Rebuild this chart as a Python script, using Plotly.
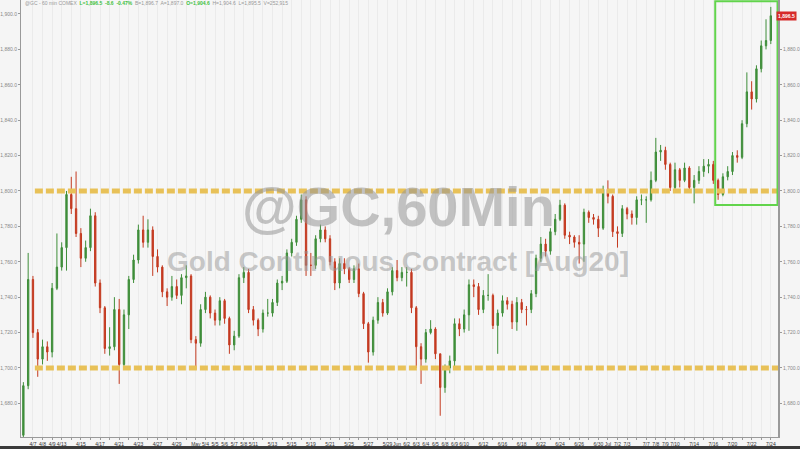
import plotly.graph_objects as go

# Trading days on the time axis (index 0 = 4/7)
trading_days = [
    "4/7", "4/8", "4/9", "4/13", "4/14", "4/15", "4/16", "4/17", "4/20", "4/21", "4/22", "4/23", "4/24",
    "4/27", "4/28", "4/29", "4/30",
    "5/1", "5/4", "5/5", "5/6", "5/7", "5/8", "5/11", "5/12", "5/13", "5/14", "5/15", "5/18", "5/19",
    "5/20", "5/21", "5/22", "5/25", "5/26", "5/27", "5/28", "5/29",
    "6/1", "6/2", "6/3", "6/4", "6/5", "6/8", "6/9", "6/10", "6/11", "6/12", "6/15", "6/16", "6/17",
    "6/18", "6/19", "6/22", "6/23", "6/24", "6/25", "6/26", "6/29", "6/30",
    "7/1", "7/2", "7/3", "7/6", "7/7", "7/8", "7/9", "7/10", "7/13", "7/14", "7/15", "7/16", "7/17",
    "7/20", "7/21", "7/22", "7/23", "7/24",
]
labelled_days = [
    "4/7", "4/8", "4/9", "4/13", "4/15", "4/17", "4/21", "4/23", "4/27", "4/29", "5/1", "5/4", "5/5",
    "5/6", "5/7", "5/8", "5/11", "5/13", "5/15", "5/19", "5/21", "5/25", "5/27", "5/29", "6/1", "6/2",
    "6/3", "6/4", "6/5", "6/8", "6/9", "6/10", "6/12", "6/16", "6/18", "6/22", "6/24", "6/26", "6/30",
    "7/1", "7/2", "7/3", "7/7", "7/8", "7/9", "7/10", "7/14", "7/16", "7/20", "7/22", "7/24",
]
month_names = {"5/1": "May", "6/1": "Jun", "7/1": "Jul"}

# Price bars (two per trading day, starting the session before 4/7)
first_open = 1662
closes = [
    1690, 1750, 1720, 1705, 1712, 1709, 1745, 1757, 1768, 1798,
    1790, 1776, 1762, 1768, 1786, 1748, 1734, 1711, 1712, 1733,
    1702, 1730, 1750, 1761, 1778, 1771, 1778, 1763, 1757, 1743,
    1740, 1746, 1741, 1751, 1752, 1716, 1714, 1733, 1740, 1731,
    1727, 1738, 1728, 1713, 1718, 1751, 1754, 1733, 1727, 1722,
    1731, 1731, 1737, 1748, 1749, 1765, 1771, 1784, 1795, 1758,
    1758, 1773, 1778, 1773, 1760, 1748, 1759, 1756, 1750, 1756,
    1742, 1725, 1709, 1727, 1737, 1731, 1743, 1755, 1751, 1754,
    1754, 1734, 1712, 1705, 1720, 1722, 1708, 1689, 1700, 1704,
    1725, 1722, 1730, 1747, 1746, 1733, 1741, 1741, 1724, 1731,
    1738, 1736, 1726, 1737, 1733, 1733, 1742, 1762, 1770, 1766,
    1777, 1784, 1792, 1775, 1774, 1771, 1770, 1788, 1785, 1784,
    1779, 1801, 1797, 1777, 1776, 1790, 1787, 1785, 1795, 1795,
    1795, 1806, 1822, 1823, 1815, 1802, 1812, 1806, 1813, 1802,
    1806, 1811, 1814, 1815, 1806, 1798, 1808, 1811, 1820, 1819,
    1838, 1856, 1852, 1869, 1882, 1885, 1899,
]
highs = [
    1692, 1765, 1752, 1722, 1716, 1715, 1748, 1776, 1771, 1800,
    1808, 1811, 1779, 1772, 1790, 1788, 1750, 1735, 1723, 1740,
    1739, 1733, 1752, 1764, 1781, 1786, 1784, 1780, 1767, 1758,
    1745, 1752, 1750, 1753, 1758, 1753, 1718, 1736, 1743, 1741,
    1733, 1740, 1739, 1729, 1721, 1753, 1757, 1756, 1735, 1728,
    1733, 1739, 1739, 1750, 1752, 1767, 1773, 1786, 1798, 1797,
    1765, 1775, 1781, 1780, 1775, 1762, 1762, 1762, 1757, 1758,
    1759, 1743, 1726, 1729, 1740, 1739, 1745, 1757, 1761, 1757,
    1757, 1756, 1735, 1714, 1722, 1727, 1723, 1708, 1702, 1707,
    1728, 1728, 1733, 1750, 1750, 1748, 1744, 1753, 1742, 1733,
    1741, 1740, 1738, 1740, 1739, 1735, 1744, 1764, 1774, 1773,
    1779, 1787, 1795, 1793, 1777, 1775, 1775, 1790, 1789, 1787,
    1786, 1803, 1806, 1798, 1780, 1792, 1791, 1789, 1797, 1798,
    1797, 1811, 1830, 1826, 1825, 1816, 1816, 1813, 1816, 1814,
    1809, 1814, 1818, 1818, 1817, 1807, 1810, 1814, 1822, 1823,
    1840, 1867, 1862, 1871, 1885, 1897, 1904,
]
lows = [
    1659, 1688, 1717, 1695, 1702, 1704, 1706, 1744, 1755, 1755,
    1787, 1774, 1757, 1760, 1766, 1746, 1731, 1708, 1707, 1710,
    1691, 1700, 1722, 1748, 1759, 1768, 1768, 1752, 1754, 1740,
    1735, 1738, 1739, 1736, 1745, 1714, 1699, 1712, 1731, 1728,
    1724, 1724, 1725, 1708, 1710, 1717, 1748, 1731, 1724, 1718,
    1720, 1729, 1729, 1735, 1744, 1748, 1763, 1769, 1782, 1752,
    1752, 1756, 1771, 1771, 1758, 1744, 1745, 1753, 1748, 1748,
    1740, 1722, 1703, 1707, 1725, 1729, 1730, 1741, 1749, 1749,
    1746, 1731, 1700, 1691, 1703, 1719, 1705, 1673, 1686, 1697,
    1700, 1718, 1720, 1721, 1740, 1730, 1731, 1738, 1722, 1708,
    1729, 1733, 1722, 1721, 1731, 1724, 1731, 1740, 1760, 1763,
    1764, 1775, 1783, 1773, 1770, 1768, 1759, 1760, 1782, 1781,
    1774, 1778, 1793, 1774, 1768, 1774, 1784, 1781, 1781, 1792,
    1782, 1794, 1805, 1817, 1812, 1800, 1801, 1802, 1805, 1800,
    1793, 1804, 1808, 1810, 1804, 1795, 1797, 1806, 1809, 1816,
    1818, 1836, 1846, 1850, 1867, 1880, 1883,
]
support_level = 1700
resistance_level = 1800
last_price_text = "1,896.5"
y_ticks_left = [1680, 1700, 1720, 1740, 1760, 1780, 1800, 1820, 1840, 1860, 1880, 1900]
y_ticks_right = [1680, 1700, 1720, 1740, 1760, 1780, 1800, 1820, 1840, 1860, 1880]

opens = [first_open] + closes[:-1]
bars_per_day = 2
x_bars = [-1 + i / bars_per_day for i in range(len(closes))]

tickvals = list(range(len(trading_days)))
ticktext = [month_names.get(d, d) if d in labelled_days else "" for d in trading_days]

X_RANGE = [-1.247, 77.75]
Y_RANGE = [1661.0, 1907.9]
FONT = "Liberation Sans, Arial, sans-serif"

fig = go.Figure()
fig.add_trace(go.Candlestick(
    x=x_bars, open=opens, high=highs, low=lows, close=closes,
    increasing=dict(line=dict(color="#3f8e3a", width=1), fillcolor="#3f8e3a"),
    decreasing=dict(line=dict(color="#c43a20", width=1), fillcolor="#c43a20"),
    whiskerwidth=0, showlegend=False, hoverinfo="skip",
))
# invisible trace on the right-hand price axis
fig.add_trace(go.Scatter(x=[X_RANGE[0]], y=[Y_RANGE[0]], yaxis="y2", mode="markers",
                         marker=dict(opacity=0), showlegend=False, hoverinfo="skip"))

# dashed support / resistance lines
for lvl in (resistance_level, support_level):
    fig.add_shape(type="line", xref="x", yref="y", x0=0.2, x1=X_RANGE[1], y0=lvl, y1=lvl,
                  line=dict(color="#e8c158", width=5, dash="8px,3px"), layer="above")

# green highlight box
fig.add_shape(type="rect", xref="x", yref="y", x0=71.2, x1=77.7, y0=1792.1, y1=1907.2,
              line=dict(color="#62d44c", width=2), fillcolor="rgba(0,0,0,0)", layer="above")

# dark bar along the bottom edge
fig.add_shape(type="rect", xref="paper", yref="paper", x0=-0.03, x1=1.03, y0=-0.0205, y1=-0.05,
              line=dict(width=0), fillcolor="#3a3a3a", layer="above")

# watermark
fig.add_annotation(text="<b>@GC,60Min</b>", xref="paper", yref="y", x=0.4987, y=1791.5,
                   showarrow=False, font=dict(family=FONT, size=56, color="rgba(150,150,150,0.55)"),
                   xanchor="center", yanchor="middle")
fig.add_annotation(text="<b>Gold Continuous Contract [Aug20]</b>", xref="paper", yref="y", x=0.4974,
                   y=1760.0, showarrow=False,
                   font=dict(family=FONT, size=28, color="rgba(150,150,150,0.5)"),
                   xanchor="center", yanchor="middle")

# header line
fig.add_annotation(
    text=("<span style='color:#999'>@GC - 60 min COMEX</span>  "
          "<span style='color:#3cbf3c'><b>L=1,896.5  -8.6  -0.47%</b></span>  "
          "<span style='color:#999'>B=1,896.7  A=1,897.0</span>  "
          "<span style='color:#3cbf3c'><b>O=1,904.6</b></span>  "
          "<span style='color:#999'>H=1,904.6  L=1,895.5  V=252,915</span>"),
    xref="paper", yref="paper", x=0.003, y=0.992, xanchor="left", yanchor="middle",
    showarrow=False, font=dict(family=FONT, size=5, color="#999"))

# last price tag
fig.add_annotation(text="<b>" + last_price_text + "</b>", xref="paper", yref="y",
                   x=1.0 + 19.0 / 760, y=closes[-1], xanchor="right", yanchor="middle",
                   showarrow=False, font=dict(family=FONT, size=5, color="white"),
                   bgcolor="#d62a2a", borderpad=1)

fig.update_layout(
    width=800, height=449,
    margin=dict(l=20, r=20, t=0, b=12),
    paper_bgcolor="#f5f5f5", plot_bgcolor="#f6f6f6",
    boxgap=0.6,
    xaxis=dict(range=X_RANGE, tickvals=tickvals, ticktext=ticktext, tickangle=0,
               showgrid=True, gridcolor="#ebebeb", gridwidth=1, zeroline=False,
               showline=True, linecolor="#9a9a9a", linewidth=1,
               ticks="outside", ticklen=2, tickcolor="#9a9a9a",
               tickfont=dict(family=FONT, size=5, color="#333"),
               rangeslider=dict(visible=False), fixedrange=True),
    yaxis=dict(range=Y_RANGE, tickvals=y_ticks_left, tickformat=",.1f", side="left",
               showgrid=False, zeroline=False, showline=True, linecolor="#9a9a9a", linewidth=1,
               ticks="outside", ticklen=2, tickcolor="#9a9a9a",
               tickfont=dict(family=FONT, size=5, color="#888"), fixedrange=True),
    yaxis2=dict(range=Y_RANGE, tickvals=y_ticks_right, tickformat=",.1f", side="right",
                overlaying="y", showgrid=False, zeroline=False, showline=True,
                linecolor="#9a9a9a", linewidth=2,
                ticks="outside", ticklen=2, tickcolor="#9a9a9a",
                tickfont=dict(family=FONT, size=5, color="#888"), fixedrange=True),
)

# remove the browser's default page margin so the 800x449 figure fills the window exactly
fig.write_html("out.html", config={"displayModeBar": False},
               post_script="document.body.style.margin='0';document.body.style.overflow='hidden';")
